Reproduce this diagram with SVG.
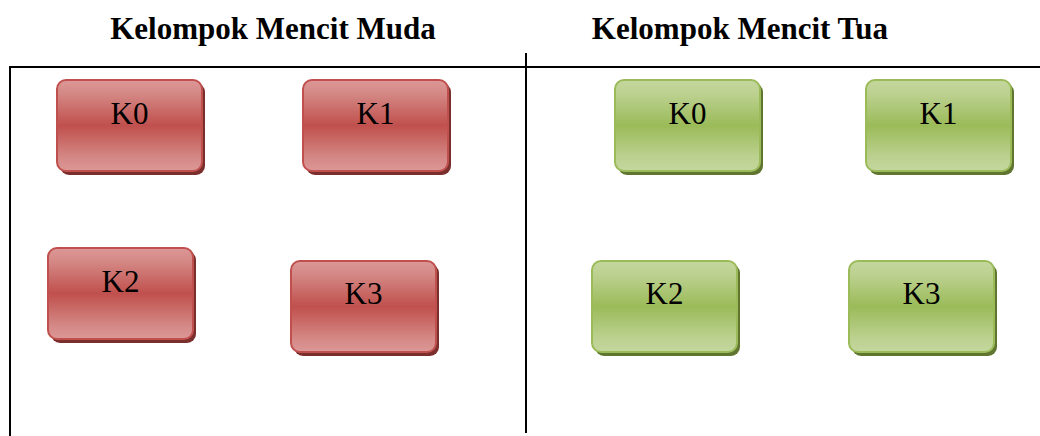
<svg xmlns="http://www.w3.org/2000/svg" width="1040" height="436" viewBox="0 0 1040 436">
  <defs>
    <linearGradient id="gRed" x1="0" y1="0" x2="0" y2="1">
      <stop offset="0" stop-color="#dc9897"/>
      <stop offset="0.15" stop-color="#d48885"/>
      <stop offset="0.5" stop-color="#c0504d"/>
      <stop offset="0.85" stop-color="#d48885"/>
      <stop offset="1" stop-color="#dc9897"/>
    </linearGradient>
    <linearGradient id="gGreen" x1="0" y1="0" x2="0" y2="1">
      <stop offset="0" stop-color="#c4d79e"/>
      <stop offset="0.15" stop-color="#bcd190"/>
      <stop offset="0.5" stop-color="#9bbb59"/>
      <stop offset="0.85" stop-color="#bcd190"/>
      <stop offset="1" stop-color="#c4d79e"/>
    </linearGradient>
  </defs>
  <style>
    .title { font-family: "Liberation Serif", "Times New Roman", serif; font-size: 31px; font-weight: bold; fill: #000; text-anchor: middle; }
    .lbl { font-family: "Liberation Serif", "Times New Roman", serif; font-size: 31px; fill: #000; text-anchor: middle; }
    .frame { stroke: #000; stroke-width: 2; fill: none; }
    .red { fill: url(#gRed); stroke: #c0504d; stroke-width: 2; }
    .redShadow { fill: #7a2f2d; }
    .green { fill: url(#gGreen); stroke: #9bbb59; stroke-width: 2; }
    .greenShadow { fill: #5f7530; }
  </style>

  <rect width="1040" height="436" fill="#fff"/>

  <!-- headings -->
  <text class="title" x="273" y="39">Kelompok Mencit Muda</text>
  <text class="title" x="740" y="39">Kelompok Mencit Tua</text>

  <!-- frame lines -->
  <g id="frame">
    <line class="frame" x1="9" y1="67" x2="1040" y2="67"/>
    <line class="frame" x1="10" y1="66" x2="10" y2="436"/>
    <line class="frame" x1="526" y1="53" x2="526" y2="433"/>
  </g>

  <!-- young group -->
  <g id="muda-k0">
    <rect class="redShadow" x="60" y="83" width="145" height="92" rx="9"/>
    <rect class="red" x="57" y="80" width="145" height="91" rx="9"/>
    <text class="lbl" x="129.5" y="124">K0</text>
  </g>
  <g id="muda-k1">
    <rect class="redShadow" x="306" y="83" width="145" height="92" rx="9"/>
    <rect class="red" x="303" y="80" width="145" height="91" rx="9"/>
    <text class="lbl" x="375.5" y="124">K1</text>
  </g>
  <g id="muda-k2">
    <rect class="redShadow" x="51" y="251" width="145" height="92" rx="9"/>
    <rect class="red" x="48" y="248" width="145" height="91" rx="9"/>
    <text class="lbl" x="120.5" y="292">K2</text>
  </g>
  <g id="muda-k3">
    <rect class="redShadow" x="294" y="264" width="145" height="92" rx="9"/>
    <rect class="red" x="291" y="261" width="145" height="91" rx="9"/>
    <text class="lbl" x="363.5" y="304">K3</text>
  </g>

  <!-- old group -->
  <g id="tua-k0">
    <rect class="greenShadow" x="618" y="83" width="145" height="92" rx="9"/>
    <rect class="green" x="615" y="80" width="145" height="91" rx="9"/>
    <text class="lbl" x="687.5" y="124">K0</text>
  </g>
  <g id="tua-k1">
    <rect class="greenShadow" x="869" y="83" width="145" height="92" rx="9"/>
    <rect class="green" x="866" y="80" width="145" height="91" rx="9"/>
    <text class="lbl" x="938.5" y="124">K1</text>
  </g>
  <g id="tua-k2">
    <rect class="greenShadow" x="595" y="264" width="145" height="92" rx="9"/>
    <rect class="green" x="592" y="261" width="145" height="91" rx="9"/>
    <text class="lbl" x="664.5" y="304">K2</text>
  </g>
  <g id="tua-k3">
    <rect class="greenShadow" x="852" y="264" width="145" height="92" rx="9"/>
    <rect class="green" x="849" y="261" width="145" height="91" rx="9"/>
    <text class="lbl" x="921.5" y="304">K3</text>
  </g>

  <g id="connectors"/>
</svg>
